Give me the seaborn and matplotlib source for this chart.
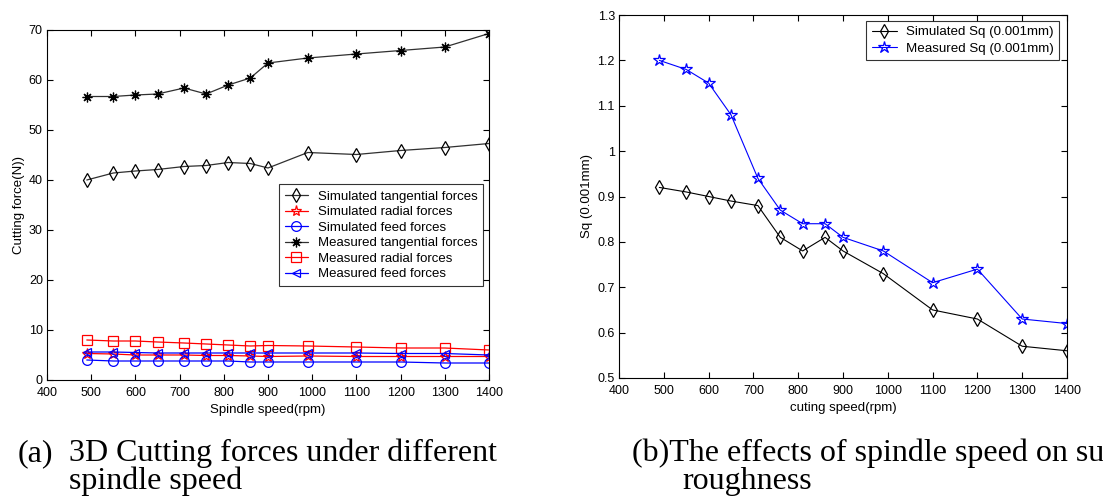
import numpy as np
import pandas as pd
import matplotlib
matplotlib.use("Agg")
import matplotlib.pyplot as plt
import seaborn as sns

speed = [490, 550, 600, 650, 710, 760, 810, 860, 900, 990, 1100, 1200, 1300, 1400]

sim_tangential = [40.0, 41.4, 41.8, 42.1, 42.7, 42.9, 43.5, 43.3, 42.4, 45.5, 45.1, 45.9, 46.5, 47.3]
sim_radial = [5.3, 5.2, 5.0, 5.0, 5.0, 4.9, 4.9, 4.8, 4.7, 4.8, 4.7, 4.7, 4.7, 4.7]
sim_feed = [4.0, 3.8, 3.8, 3.8, 3.8, 3.8, 3.8, 3.6, 3.6, 3.6, 3.6, 3.6, 3.4, 3.4]
meas_tangential = [56.7, 56.7, 57.0, 57.2, 58.4, 57.2, 59.0, 60.4, 63.4, 64.4, 65.2, 65.9, 66.6, 69.3]
meas_radial = [8.0, 7.8, 7.8, 7.6, 7.4, 7.2, 7.0, 6.8, 6.9, 6.8, 6.6, 6.4, 6.4, 6.0]
meas_feed = [5.6, 5.6, 5.5, 5.4, 5.4, 5.4, 5.4, 5.4, 5.4, 5.4, 5.4, 5.3, 5.3, 5.0]

sim_sq = [0.92, 0.91, 0.90, 0.89, 0.88, 0.81, 0.78, 0.81, 0.78, 0.73, 0.65, 0.63, 0.57, 0.56]
meas_sq = [1.20, 1.18, 1.15, 1.08, 0.94, 0.87, 0.84, 0.84, 0.81, 0.78, 0.71, 0.74, 0.63, 0.62]

force_labels = ["Simulated tangential forces", "Simulated radial forces", "Simulated feed forces",
                "Measured tangential forces", "Measured radial forces", "Measured feed forces"]
sq_labels = ["Simulated Sq (0.001mm)", "Measured Sq (0.001mm)"]

caption_a_tag = "(a)"
caption_a_line1 = "3D Cutting forces under different"
caption_a_line2 = "spindle speed"
caption_b_line1 = "(b)The effects of spindle speed on surface"
caption_b_line2 = "roughness"

sns.set_theme(style="white")
plt.rcParams['font.family'] = ['Liberation Sans', 'DejaVu Sans']
plt.rcParams['font.size'] = 9
for k in ["text.color", "axes.labelcolor", "xtick.color", "ytick.color", "axes.edgecolor"]:
    plt.rcParams[k] = "black"

fig = plt.figure(figsize=(11.03, 4.99), dpi=100)
W, H = 1103, 499
ax1 = fig.add_axes([47 / W, 1 - 380 / H, 442 / W, 350 / H])
ax2 = fig.add_axes([619 / W, 1 - 378 / H, 448 / W, 363 / H])

asterisk = (8, 2, 0)
force_series = [sim_tangential, sim_radial, sim_feed, meas_tangential, meas_radial, meas_feed]
force_styles = [
    dict(color="#303030", marker="d", mec="black", ms=7.5),
    dict(color="red", marker="*", mec="red", ms=8),
    dict(color="blue", marker="o", mec="blue", ms=7),
    dict(color="#303030", marker=asterisk, mec="black", ms=7),
    dict(color="red", marker="s", mec="red", ms=7),
    dict(color="blue", marker="<", mec="blue", ms=6),
]
for vals, lab, st in zip(force_series, force_labels, force_styles):
    sns.lineplot(x=speed, y=vals, ax=ax1, label=lab, color=st["color"], marker=st["marker"],
                 markersize=st["ms"], markerfacecolor="none", markeredgecolor=st["mec"],
                 markeredgewidth=0.9, linewidth=0.9)

sq_styles = [
    dict(color="black", marker="d", ms=7.5),
    dict(color="blue", marker="*", ms=9),
]
for vals, lab, st in zip([sim_sq, meas_sq], sq_labels, sq_styles):
    sns.lineplot(x=speed, y=vals, ax=ax2, label=lab, color=st["color"], marker=st["marker"],
                 markersize=st["ms"], markerfacecolor="none", markeredgecolor=st["color"],
                 markeredgewidth=0.9, linewidth=0.8)

def style_axes(ax, ylim, yticks, yticklabels, xlabel, ylabel):
    ax.set_xlim(400, 1400)
    ax.set_xticks(range(400, 1401, 100))
    ax.set_ylim(*ylim)
    ax.set_yticks(yticks)
    ax.set_yticklabels(yticklabels)
    ax.set_xlabel(xlabel, fontsize=9.5, labelpad=4)
    ax.set_ylabel(ylabel, fontsize=9.5, labelpad=3)
    ax.tick_params(axis="both", direction="in", length=4, width=0.8, top=True, right=True,
                   bottom=True, left=True, labelsize=9, colors="black")
    ax.tick_params(axis="x", pad=5)
    ax.tick_params(axis="y", pad=3)
    for s in ax.spines.values():
        s.set_color("black")
        s.set_linewidth(0.8)
    ax.set_facecolor("white")

style_axes(ax1, (0, 70), range(0, 71, 10), [str(v) for v in range(0, 71, 10)],
           "Spindle speed(rpm)", "Cutting force(N))")
sq_ticks = [0.5, 0.6, 0.7, 0.8, 0.9, 1.0, 1.1, 1.2, 1.3]
style_axes(ax2, (0.5, 1.3), sq_ticks, ["0.5", "0.6", "0.7", "0.8", "0.9", "1", "1.1", "1.2", "1.3"],
           "cuting speed(rpm)", "Sq (0.001mm)")

leg1 = ax1.legend(loc="lower right", bbox_to_anchor=(0.987, 0.268), fontsize=9.5, frameon=True,
                  fancybox=False, edgecolor="black", handlelength=1.8, borderpad=0.45,
                  labelspacing=0.25, handletextpad=0.7, borderaxespad=0)
leg1.get_frame().set_linewidth(0.8)
leg2 = ax2.legend(loc="upper right", bbox_to_anchor=(0.983, 0.984), fontsize=9.6, frameon=True,
                  fancybox=False, edgecolor="black", handlelength=1.9, borderpad=0.4,
                  labelspacing=0.28, handletextpad=0.7, borderaxespad=0)
leg2.get_frame().set_linewidth(0.8)

serif = ["Liberation Serif", "DejaVu Serif"]
cap_size = 23
fig.text(53 / W, 1 - 461 / H, caption_a_tag, fontsize=cap_size, family=serif, va="baseline", ha="right")
fig.text(69 / W, 1 - 461 / H, caption_a_line1, fontsize=cap_size, family=serif, va="baseline", ha="left")
fig.text(69 / W, 1 - 489 / H, caption_a_line2, fontsize=cap_size, family=serif, va="baseline", ha="left")
fig.text(632 / W, 1 - 461 / H, caption_b_line1, fontsize=cap_size, family=serif, va="baseline", ha="left")
fig.text(682 / W, 1 - 489 / H, caption_b_line2, fontsize=cap_size, family=serif, va="baseline", ha="left")

fig.savefig("out.png", dpi=100, facecolor="white")
